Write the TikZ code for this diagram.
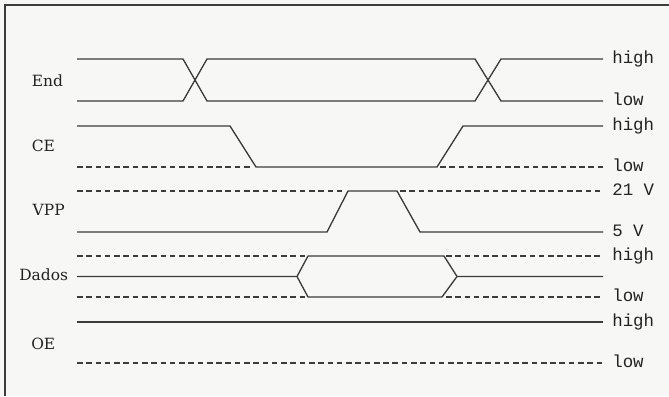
\documentclass[tikz,border=0pt]{standalone}
\usepackage{fontspec}
\setmainfont{DejaVu Serif}
\newfontfamily\levelfont{Liberation Mono}
\usepackage{tikz}
\usetikzlibrary{calc}
\usepackage{xcolor}
\definecolor{wire}{RGB}{60,60,60}
\definecolor{ink}{RGB}{35,35,35}
\definecolor{paper}{RGB}{247,247,245}
\tikzset{
  tsig/.style={wire,line width=0.95pt},
  tdash/.style={wire,line width=0.95pt,dash pattern=on 4pt off 2.6pt},
  tframe/.style={wire,line width=1.5pt},
  tname/.style={ink,font=\fontsize{11}{12}\selectfont,anchor=base west,inner sep=0pt},
  tlevel/.style={ink,font=\levelfont\fontsize{12.4}{14}\selectfont,anchor=base west,inner sep=0pt},
}
\begin{document}
\begin{tikzpicture}[scale=1.0]
  \fill[paper] (0,0) rectangle (16.725,-9.9);
  \useasboundingbox (0,0) rectangle (16.725,-9.9);
  \draw[tframe] (0.125,-9.9) -- (0.125,-0.125) -- (16.725,-0.125);
  % ---- End ----
  \draw[tsig] (1.925,-1.475) -- (4.575,-1.475) -- (5.175,-2.525) -- (11.875,-2.525)
     -- (12.525,-1.475) -- (15.075,-1.475);
  \draw[tsig] (1.925,-2.525) -- (4.575,-2.525) -- (5.175,-1.475) -- (11.875,-1.475)
     -- (12.525,-2.525) -- (15.075,-2.525);
  % ---- CE ----
  \draw[tsig] (1.925,-3.15) -- (5.75,-3.15) -- (6.4,-4.175) -- (10.925,-4.175)
     -- (11.575,-3.15) -- (15.075,-3.15);
  \draw[tdash] (1.925,-4.175) -- (6.3,-4.175);
  \draw[tdash] (11.0,-4.175) -- (15.075,-4.175);
  % ---- VPP ----
  \draw[tsig] (1.925,-5.8) -- (8.175,-5.8) -- (8.7,-4.775) -- (9.925,-4.775)
     -- (10.5,-5.8) -- (15.075,-5.8);
  \draw[tdash] (1.925,-4.775) -- (8.65,-4.775);
  \draw[tdash] (10.0,-4.775) -- (15.075,-4.775);
  % ---- Dados ----
  \draw[tsig] (1.925,-6.9125) -- (7.425,-6.9125) -- (7.7,-6.4) -- (11.1,-6.4)
     -- (11.425,-6.9125) -- (15.075,-6.9125);
  \draw[tsig] (7.425,-6.9125) -- (7.7,-7.425) -- (11.05,-7.425) -- (11.425,-6.9125);
  \foreach \yy in {6.4,7.425} {
    \draw[tdash] (1.925,-\yy) -- (7.65,-\yy);
    \draw[tdash] (11.15,-\yy) -- (15.075,-\yy);}
  % ---- OE ----
  \draw[tsig] (1.925,-8.05) -- (15.075,-8.05);
  \draw[tdash] (1.925,-9.075) -- (15.075,-9.075);
  % ---- signal names ----
  \node[tname] (nEnd) at (0.79,-2.15) {End};
  \node[tname] (nCE) at (0.79,-3.79) {CE};
  \node[tname] (nVPP) at (0.81,-5.38) {VPP};
  \node[tname] (nDados) at (0.475,-7.01) {Dados};
  \node[tname] (nOE) at (0.775,-8.73) {OE};
  % ---- levels ----
  \foreach \yy/\txt [count=\i] in {1.575/high,2.625/low,3.25/high,4.275/low,
      4.875/21 V,5.9/5 V,6.5/high,7.525/low,8.15/high,9.175/low}
    \node[tlevel] (lv\i) at (15.3,-\yy) {\txt};
\end{tikzpicture}
\end{document}
